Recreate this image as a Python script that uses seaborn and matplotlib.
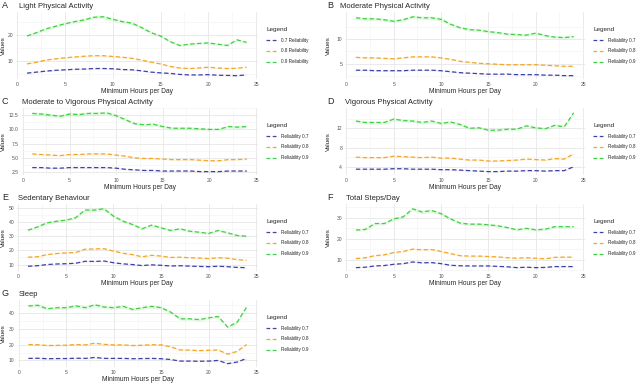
import numpy as np
import pandas as pd
import seaborn as sns
from matplotlib import pyplot as plt
from matplotlib.lines import Line2D
from matplotlib.ticker import FixedLocator, MultipleLocator

hours = list(range(1, 25))

# values, one list per reliability level
light_07 = [5.2, 5.6, 6.0, 6.3, 6.5, 6.7, 6.8, 7.0, 7.0, 6.9, 6.6, 6.5, 6.1, 5.6, 5.3, 5.1, 4.7, 4.5, 4.5, 4.6, 4.4, 4.3, 4.2, 4.5]
light_08 = [8.8, 9.5, 10.3, 10.8, 11.2, 11.5, 11.8, 12.0, 12.0, 11.7, 11.4, 11.0, 10.3, 9.5, 8.8, 7.8, 7.2, 7.0, 7.2, 7.5, 7.2, 7.0, 7.1, 7.5]
light_09 = [19.7, 21.0, 22.5, 23.5, 24.5, 25.3, 26.0, 27.0, 27.2, 26.2, 25.3, 24.7, 23.0, 21.0, 19.7, 17.5, 16.0, 16.5, 16.8, 17.0, 16.5, 16.0, 18.2, 17.2]

mod_07 = [3.7, 3.7, 3.6, 3.6, 3.6, 3.6, 3.7, 3.7, 3.7, 3.6, 3.4, 3.2, 3.1, 3.0, 2.9, 2.9, 2.9, 2.8, 2.8, 2.8, 2.7, 2.7, 2.6, 2.6]
mod_08 = [6.3, 6.2, 6.2, 6.1, 6.0, 6.2, 6.4, 6.4, 6.4, 6.2, 5.9, 5.5, 5.3, 5.1, 5.0, 4.9, 4.8, 4.8, 4.8, 4.8, 4.7, 4.6, 4.5, 4.5]
mod_09 = [14.3, 14.1, 14.1, 13.9, 13.6, 13.9, 14.5, 14.3, 14.3, 14.0, 13.0, 12.3, 11.9, 11.8, 11.5, 11.3, 11.0, 10.9, 10.8, 11.2, 10.7, 10.4, 10.3, 10.5]

mvpa_07 = [3.3, 3.3, 3.2, 3.2, 3.3, 3.3, 3.3, 3.3, 3.3, 3.2, 3.0, 2.9, 2.8, 2.8, 2.7, 2.7, 2.7, 2.7, 2.6, 2.6, 2.6, 2.7, 2.7, 2.7]
mvpa_08 = [5.7, 5.6, 5.5, 5.4, 5.6, 5.6, 5.7, 5.7, 5.7, 5.5, 5.3, 5.0, 4.9, 4.9, 4.8, 4.7, 4.7, 4.7, 4.6, 4.5, 4.5, 4.7, 4.7, 4.8]
mvpa_09 = [12.8, 12.7, 12.5, 12.3, 12.7, 12.6, 12.8, 12.8, 12.9, 12.4, 11.7, 11.0, 10.8, 10.9, 10.5, 10.2, 10.2, 10.2, 10.1, 10.0, 10.0, 10.5, 10.4, 10.5]

vig_07 = [3.5, 3.5, 3.5, 3.5, 3.6, 3.6, 3.5, 3.5, 3.5, 3.4, 3.4, 3.3, 3.2, 3.1, 3.0, 3.0, 3.1, 3.1, 3.2, 3.2, 3.1, 3.2, 3.2, 4.0]
vig_08 = [6.0, 5.9, 5.9, 5.9, 6.2, 6.1, 6.0, 5.9, 6.0, 5.8, 5.8, 5.6, 5.4, 5.4, 5.2, 5.2, 5.3, 5.4, 5.6, 5.5, 5.4, 5.7, 5.6, 6.7]
vig_09 = [13.5, 13.2, 13.2, 13.2, 13.9, 13.6, 13.5, 13.2, 13.5, 13.0, 13.3, 12.8, 12.0, 12.1, 11.6, 11.6, 11.8, 11.8, 12.5, 12.1, 11.9, 12.6, 12.3, 15.2]

sed_07 = [8.8, 9.2, 10.0, 10.4, 10.6, 10.9, 12.3, 12.2, 12.5, 11.3, 10.5, 10.0, 9.3, 9.8, 9.5, 9.0, 9.2, 8.9, 8.7, 8.5, 8.8, 8.5, 8.0, 7.8]
sed_08 = [15.2, 15.5, 17.0, 17.8, 18.2, 18.5, 20.8, 21.0, 21.2, 19.5, 18.0, 17.0, 15.5, 16.5, 16.0, 15.0, 15.2, 14.8, 14.6, 14.2, 14.8, 14.5, 13.5, 13.0]
sed_09 = [34.2, 36.5, 39.4, 40.5, 41.3, 42.9, 48.4, 48.4, 49.3, 44.1, 40.6, 38.2, 35.2, 37.8, 35.9, 34.0, 35.2, 33.5, 32.8, 31.9, 34.0, 32.4, 30.5, 30.0]

steps_07 = [6.3, 6.5, 7.1, 7.3, 7.9, 8.2, 9.0, 8.6, 8.7, 8.2, 7.4, 7.2, 7.1, 7.1, 7.1, 6.9, 6.7, 6.3, 6.5, 6.3, 6.4, 6.8, 6.8, 6.8]
steps_08 = [10.6, 11.0, 12.0, 12.4, 13.5, 14.0, 15.1, 14.8, 14.9, 14.0, 13.0, 12.0, 11.8, 11.8, 11.6, 11.4, 11.0, 10.8, 11.0, 10.8, 10.5, 11.2, 11.3, 11.3]
steps_09 = [24.2, 24.5, 27.3, 27.3, 29.5, 30.5, 34.3, 32.8, 33.5, 32.0, 29.5, 27.5, 27.0, 27.0, 26.7, 26.2, 25.4, 24.3, 25.0, 24.3, 24.6, 25.8, 25.8, 25.8]

sleep_07 = [11.3, 11.4, 11.1, 11.2, 11.2, 11.4, 11.3, 11.9, 11.3, 11.3, 11.3, 11.1, 11.2, 11.3, 11.1, 10.6, 9.6, 9.6, 9.5, 9.6, 10.0, 8.0, 9.0, 11.3]
sleep_08 = [20.0, 19.9, 19.4, 19.5, 19.6, 20.0, 19.8, 20.9, 20.1, 19.8, 19.8, 19.4, 19.6, 19.9, 19.8, 18.6, 16.6, 16.5, 16.2, 16.4, 16.6, 14.0, 15.7, 20.0]
sleep_09 = [44.3, 44.7, 42.5, 43.2, 43.2, 44.3, 43.2, 45.0, 43.6, 43.2, 44.0, 42.1, 43.2, 44.0, 43.2, 40.4, 36.2, 36.2, 35.7, 36.8, 37.7, 31.0, 34.0, 43.6]

titles = ["Light Physical Activity", "Moderate Physical Activity",
          "Moderate to Vigorous Physical Activity", "Vigorous Physical Activity",
          "Sedentary Behaviour", "Total Steps/Day", "Sleep"]
letters = ["A", "B", "C", "D", "E", "F", "G"]
data = [[light_07, light_08, light_09], [mod_07, mod_08, mod_09],
        [mvpa_07, mvpa_08, mvpa_09], [vig_07, vig_08, vig_09],
        [sed_07, sed_08, sed_09], [steps_07, steps_08, steps_09],
        [sleep_07, sleep_08, sleep_09]]
yticks = [[10, 20], [5, 10], [2.5, 5.0, 7.5, 10.0, 12.5], [4, 8, 12],
          [10, 20, 30, 40, 50], [10, 20, 30], [10, 20, 30, 40]]
ytick_labels = [["10", "20"], ["5", "10"], ["2.5", "5.0", "7.5", "10.0", "12.5"],
                ["4", "8", "12"], ["10", "20", "30", "40", "50"],
                ["10", "20", "30"], ["10", "20", "30", "40"]]
labels_a = ["0.7 Reliability", "0.8 Reliability", "0.9 Reliability"]
labels_rest = ["Reliability 0.7", "Reliability 0.8", "Reliability 0.9"]
colors = ["#4040a8", "#f5a623", "#3fd13f"]

# panel placement in pixels: axes left edge, title x, letter x
axes_left = [16, 345, 21.5, 345, 17, 345, 17.5]
title_x = [19, 340, 22, 345, 18, 346, 19]
letter_x = [2, 327, 2, 327, 2, 327, 2]

sns.set_style("white")
plt.rcParams['font.family'] = ['Liberation Sans', 'DejaVu Sans']

fig = plt.figure(figsize=(6.4, 3.9), dpi=100)
W, H = 640.0, 390.0

for i in range(7):
    row, col = divmod(i, 2)
    left = axes_left[i]
    right = 257.5 if col == 0 else 584.5
    top = 12 + 96 * row
    height = 67
    ax = fig.add_axes([left / W, 1 - (top + height) / H, (right - left) / W, height / H])
    labels = labels_a if i == 0 else labels_rest
    series = data[i]

    df = pd.DataFrame({
        'hour': hours * 3,
        'value': series[0] + series[1] + series[2],
        'group': [labels[0]] * 24 + [labels[1]] * 24 + [labels[2]] * 24,
    })
    sns.lineplot(data=df, x='hour', y='value', hue='group', palette=colors,
                 ax=ax, linestyle='--', lw=0.9, legend=False)
    for s, c in zip(series, colors):
        s = np.array(s)
        ax.fill_between(hours, s * 0.975, s * 1.025, color=c, alpha=0.13, lw=0)
    for line in ax.lines:
        line.set_dashes((3.5, 2))

    ax.set_xlim(-0.15, 25.15)
    ax.xaxis.set_major_locator(MultipleLocator(5))
    ax.xaxis.set_minor_locator(MultipleLocator(2.5))
    yt = yticks[i]
    st = yt[1] - yt[0]
    ax.yaxis.set_major_locator(FixedLocator(yt))
    ax.set_yticklabels(ytick_labels[i])
    ax.yaxis.set_minor_locator(FixedLocator([yt[0] - st / 2] + [v + st / 2 for v in yt]))
    ax.grid(which='major', color='#e6e6e6', lw=0.6)
    ax.grid(which='minor', color='#f2f2f2', lw=0.4)
    ax.set_axisbelow(True)
    for sp in ax.spines.values():
        sp.set_visible(False)
    ax.tick_params(which='both', length=0, labelsize=3.6, labelcolor='#555555', pad=2)
    ax.set_xlabel("Minimum Hours per Day", fontsize=4.8, labelpad=1)
    ax.set_ylabel("Values", fontsize=4.6)
    yl_x = 6 if col == 0 else 331
    ax.yaxis.set_label_coords((yl_x - left) / (right - left), 0.5)

    fig.text(letter_x[i] / W, 1 - (top - 2.5) / H, letters[i], fontsize=6.5, va='bottom', ha='left')
    fig.text(title_x[i] / W, 1 - (top - 2.5) / H, titles[i], fontsize=5.5, va='bottom', ha='left')

    handles = [Line2D([0], [0], color=c, lw=0.9, linestyle=(0, (3, 2))) for c in colors]
    leg = ax.legend(handles, labels, title="Legend", loc='center left',
                    bbox_to_anchor=(1.02, 0.5), frameon=False, fontsize=3.3,
                    title_fontsize=4.6, handlelength=2.3, labelspacing=1.3,
                    handletextpad=0.8)
    leg._legend_box.align = "left"

fig.savefig("out.png", dpi=100)
